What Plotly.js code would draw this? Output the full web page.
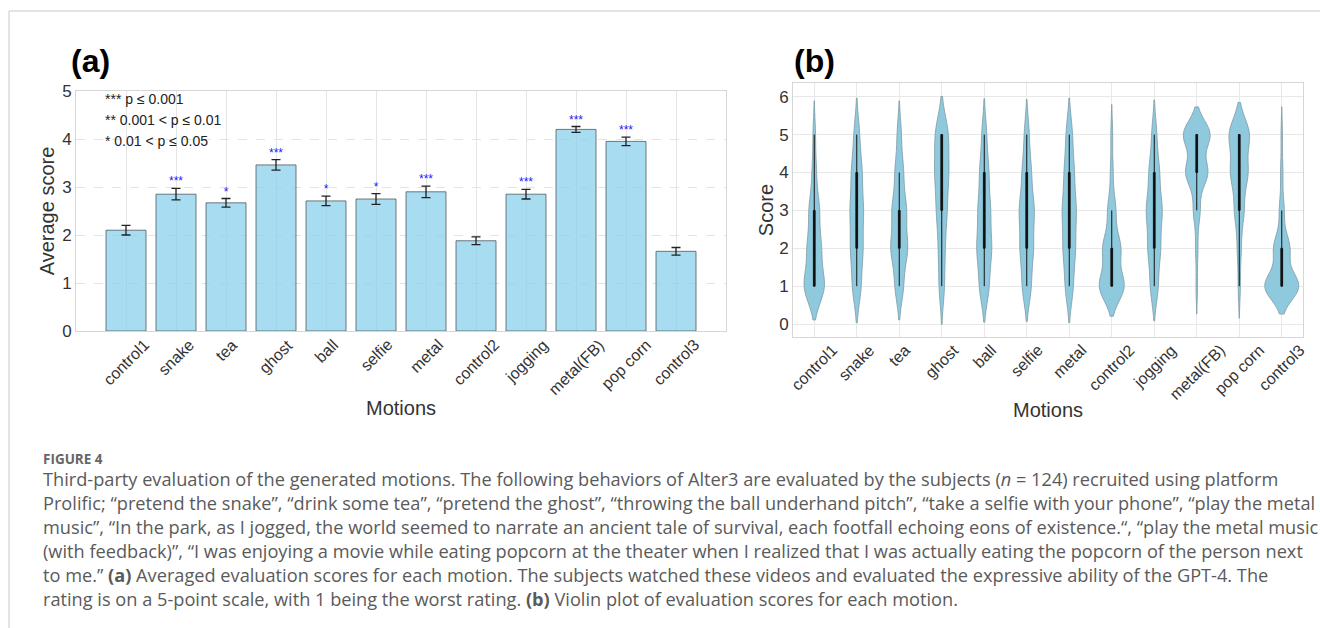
<!DOCTYPE html>
<html><head><meta charset="utf-8">
<script src="https://cdn.plot.ly/plotly-3.0.1.min.js"></script>
<style>html,body{margin:0;padding:0;background:#fff;} #chart{width:1320px;height:628px;}</style>
</head><body><div id="chart"></div>
<script>
// ---- data ----
const motions = ['control1','snake','tea','ghost','ball','selfie','metal','control2','jogging','metal(FB)','pop corn','control3'];
const meanScores = [2.10, 2.85, 2.67, 3.46, 2.71, 2.75, 2.90, 1.88, 2.85, 4.20, 3.95, 1.66];
const semScores  = [0.10, 0.12, 0.09, 0.11, 0.10, 0.11, 0.12, 0.08, 0.10, 0.06, 0.09, 0.08];
const sigStars   = ['', '***', '*', '***', '*', '*', '***', '', '***', '***', '***', ''];
// number of subjects (n = 124) giving each rating, per motion
const scoreLevels = [1, 2, 3, 4, 5];
const count1 = [50, 22, 20, 14, 24, 22, 20, 56, 19,  3,  5, 72];
const count2 = [33, 30, 40, 16, 36, 32, 30, 40, 30,  5,  9, 34];
const count3 = [25, 32, 34, 26, 30, 36, 34, 18, 38, 14, 22, 10];
const count4 = [10, 26, 20, 34, 22, 22, 24,  6, 25, 46, 40,  5];
const count5 = [ 6, 14, 10, 34, 12, 12, 16,  4, 12, 56, 48,  3];
const legendLines = ['*** p \u2264 0.001', '** 0.001 < p \u2264 0.01', '* 0.01 < p \u2264 0.05'];
const captionHead = 'FIGURE 4';
const captionLines = [
  'Third-party evaluation of the generated motions. The following behaviors of Alter3 are evaluated by the subjects (<i>n</i> = 124) recruited using platform',
  'Prolific; \u201cpretend the snake\u201d, \u201cdrink some tea\u201d, \u201cpretend the ghost\u201d, \u201cthrowing the ball underhand pitch\u201d, \u201ctake a selfie with your phone\u201d, \u201cplay the metal',
  'music\u201d, \u201cIn the park, as I jogged, the world seemed to narrate an ancient tale of survival, each footfall echoing eons of existence.\u201c, \u201cplay the metal music',
  '(with feedback)\u201d, \u201cI was enjoying a movie while eating popcorn at the theater when I realized that I was actually eating the popcorn of the person next',
  'to me.\u201d <b>(a)</b> Averaged evaluation scores for each motion. The subjects watched these videos and evaluated the expressive ability of the GPT-4. The',
  'rating is on a 5-point scale, with 1 being the worst rating. <b>(b)</b> Violin plot of evaluation scores for each motion.'
];

// ---- helpers ----
const W = 1320, H = 628;
const px = v => v / W;
const py = v => 1 - v / H;
const FONT = 'Liberation Sans, Arial, Helvetica, sans-serif';
const CAPFONT = 'Open Sans, Lato, sans-serif';
const counts = [count1, count2, count3, count4, count5];

// ---- traces ----
const traces = [];
traces.push({
  type: 'bar', x: motions, y: meanScores, xaxis: 'x', yaxis: 'y', width: 0.8,
  marker: {color: 'rgba(135,206,235,0.72)', line: {color: 'rgba(70,80,85,0.75)', width: 1}},
  error_y: {type: 'data', array: semScores, visible: true, color: '#222', thickness: 1.3, width: 4.5},
  hoverinfo: 'x+y'
});
traces.push({
  type: 'scatter', mode: 'text', x: motions,
  y: meanScores.map((m, i) => m + semScores[i]), text: sigStars,
  textposition: 'top center', textfont: {color: '#1a1aff', size: 12, family: FONT},
  xaxis: 'x', yaxis: 'y', cliponaxis: false, hoverinfo: 'skip'
});
motions.forEach((m, i) => {
  const vals = [];
  scoreLevels.forEach((s, k) => { for (let c = 0; c < counts[k][i]; c++) vals.push(s); });
  const n = vals.length;
  const mu = vals.reduce((a, b) => a + b, 0) / n;
  const sd = Math.sqrt(vals.reduce((a, b) => a + (b - mu) * (b - mu), 0) / (n - 1));
  traces.push({
    type: 'violin', x: vals.map(() => m), y: vals, xaxis: 'x2', yaxis: 'y2',
    name: m, scalegroup: 'all', scalemode: 'width',
    bandwidth: sd * Math.pow(n, -0.2), spanmode: 'soft', points: false,
    fillcolor: '#8fc9de', opacity: 1, line: {color: '#7d9aa5', width: 0.8},
    box: {visible: true, width: 0.05, fillcolor: '#111', line: {color: '#111', width: 1}},
    meanline: {visible: false}, hoveron: 'violins'
  });
});

// ---- annotations ----
const ann = [];
ann.push({xref: 'paper', yref: 'paper', x: px(69), y: py(61), xanchor: 'left', yanchor: 'middle', showarrow: false,
  text: '<b>(a)</b>', font: {family: FONT, size: 32, color: '#000'}});
ann.push({xref: 'paper', yref: 'paper', x: px(792), y: py(61), xanchor: 'left', yanchor: 'middle', showarrow: false,
  text: '<b>(b)</b>', font: {family: FONT, size: 32, color: '#000'}});
legendLines.forEach((t, i) => ann.push({xref: 'paper', yref: 'paper', x: px(103), y: py(99 + 21 * i),
  xanchor: 'left', yanchor: 'middle', showarrow: false, text: t, font: {family: FONT, size: 14, color: '#222'}}));
// rotated category labels, centred under each category (as in the reference)
motions.forEach((m, i) => {
  ann.push({xref: 'x', yref: 'paper', x: i, y: py(335), xanchor: 'center', yanchor: 'top', textangle: -45,
    showarrow: false, borderpad: 0, text: m, font: {family: FONT, size: 16, color: '#333'}});
  ann.push({xref: 'x2', yref: 'paper', x: i, y: py(340), xanchor: 'center', yanchor: 'top', textangle: -45,
    showarrow: false, borderpad: 0, text: m, font: {family: FONT, size: 16, color: '#333'}});
});
ann.push({xref: 'paper', yref: 'paper', x: px(42), y: py(459), xanchor: 'left', yanchor: 'middle', showarrow: false,
  borderpad: 0, text: '<b>' + captionHead + '</b>', font: {family: CAPFONT, size: 13.5, color: '#666'}});
captionLines.forEach((t, i) => ann.push({xref: 'paper', yref: 'paper', x: px(42), y: py(479 + 24 * i),
  xanchor: 'left', yanchor: 'middle', align: 'left', showarrow: false, borderpad: 0, text: t,
  font: {family: CAPFONT, size: 18.2, color: '#5a5a5a'}}));

const gridA = '#e4e4e4', border = '#d6d6d6';
const layout = {
  width: W, height: H, margin: {l: 0, r: 0, t: 0, b: 0},
  paper_bgcolor: '#fff', plot_bgcolor: '#fff', showlegend: false,
  font: {family: FONT, color: '#333'},
  violinmode: 'overlay', violingap: 0.2, violingroupgap: 0,
  xaxis: {domain: [px(76), px(726)], anchor: 'y', type: 'category', range: [-1, 12],
    showticklabels: false, showgrid: true, gridcolor: gridA,
    showline: true, mirror: true, linecolor: border, ticks: '', automargin: false,
    title: {text: 'Motions', font: {size: 20, color: '#333'}, standoff: 69}},
  yaxis: {domain: [py(331), py(91)], anchor: 'x', range: [0, 5], dtick: 1,
    tickfont: {size: 17, color: '#333'}, showgrid: true, gridcolor: gridA, griddash: 'dash',
    zeroline: false, showline: true, mirror: true, linecolor: border, ticks: '', automargin: false,
    title: {text: 'Average score', font: {size: 20, color: '#333'}, standoff: 2}},
  xaxis2: {domain: [px(793), px(1303)], anchor: 'y2', type: 'category', range: [-0.5, 11.5],
    showticklabels: false, showgrid: true, gridcolor: '#e8e8e8',
    showline: true, mirror: true, linecolor: border, ticks: '', automargin: false,
    title: {text: 'Motions', font: {size: 20, color: '#333'}, standoff: 65}},
  yaxis2: {domain: [py(337), py(83)], anchor: 'x2', range: [-0.34, 6.36], dtick: 1,
    tickfont: {size: 17, color: '#333'}, showgrid: true, gridcolor: '#e8e8e8',
    zeroline: false, showline: true, mirror: true, linecolor: border, ticks: '', automargin: false,
    title: {text: 'Score', font: {size: 20, color: '#333'}, standoff: 0}},
  annotations: ann,
  shapes: [
    {type: 'line', xref: 'paper', yref: 'paper', x0: px(9), x1: 1, y0: py(11), y1: py(11), line: {color: '#c8c8c8', width: 1}},
    {type: 'line', xref: 'paper', yref: 'paper', x0: px(9), x1: px(9), y0: py(11), y1: 0, line: {color: '#c8c8c8', width: 1}}
  ]
};
Plotly.newPlot('chart', traces, layout, {displayModeBar: false, staticPlot: true});
</script>
</body></html>
